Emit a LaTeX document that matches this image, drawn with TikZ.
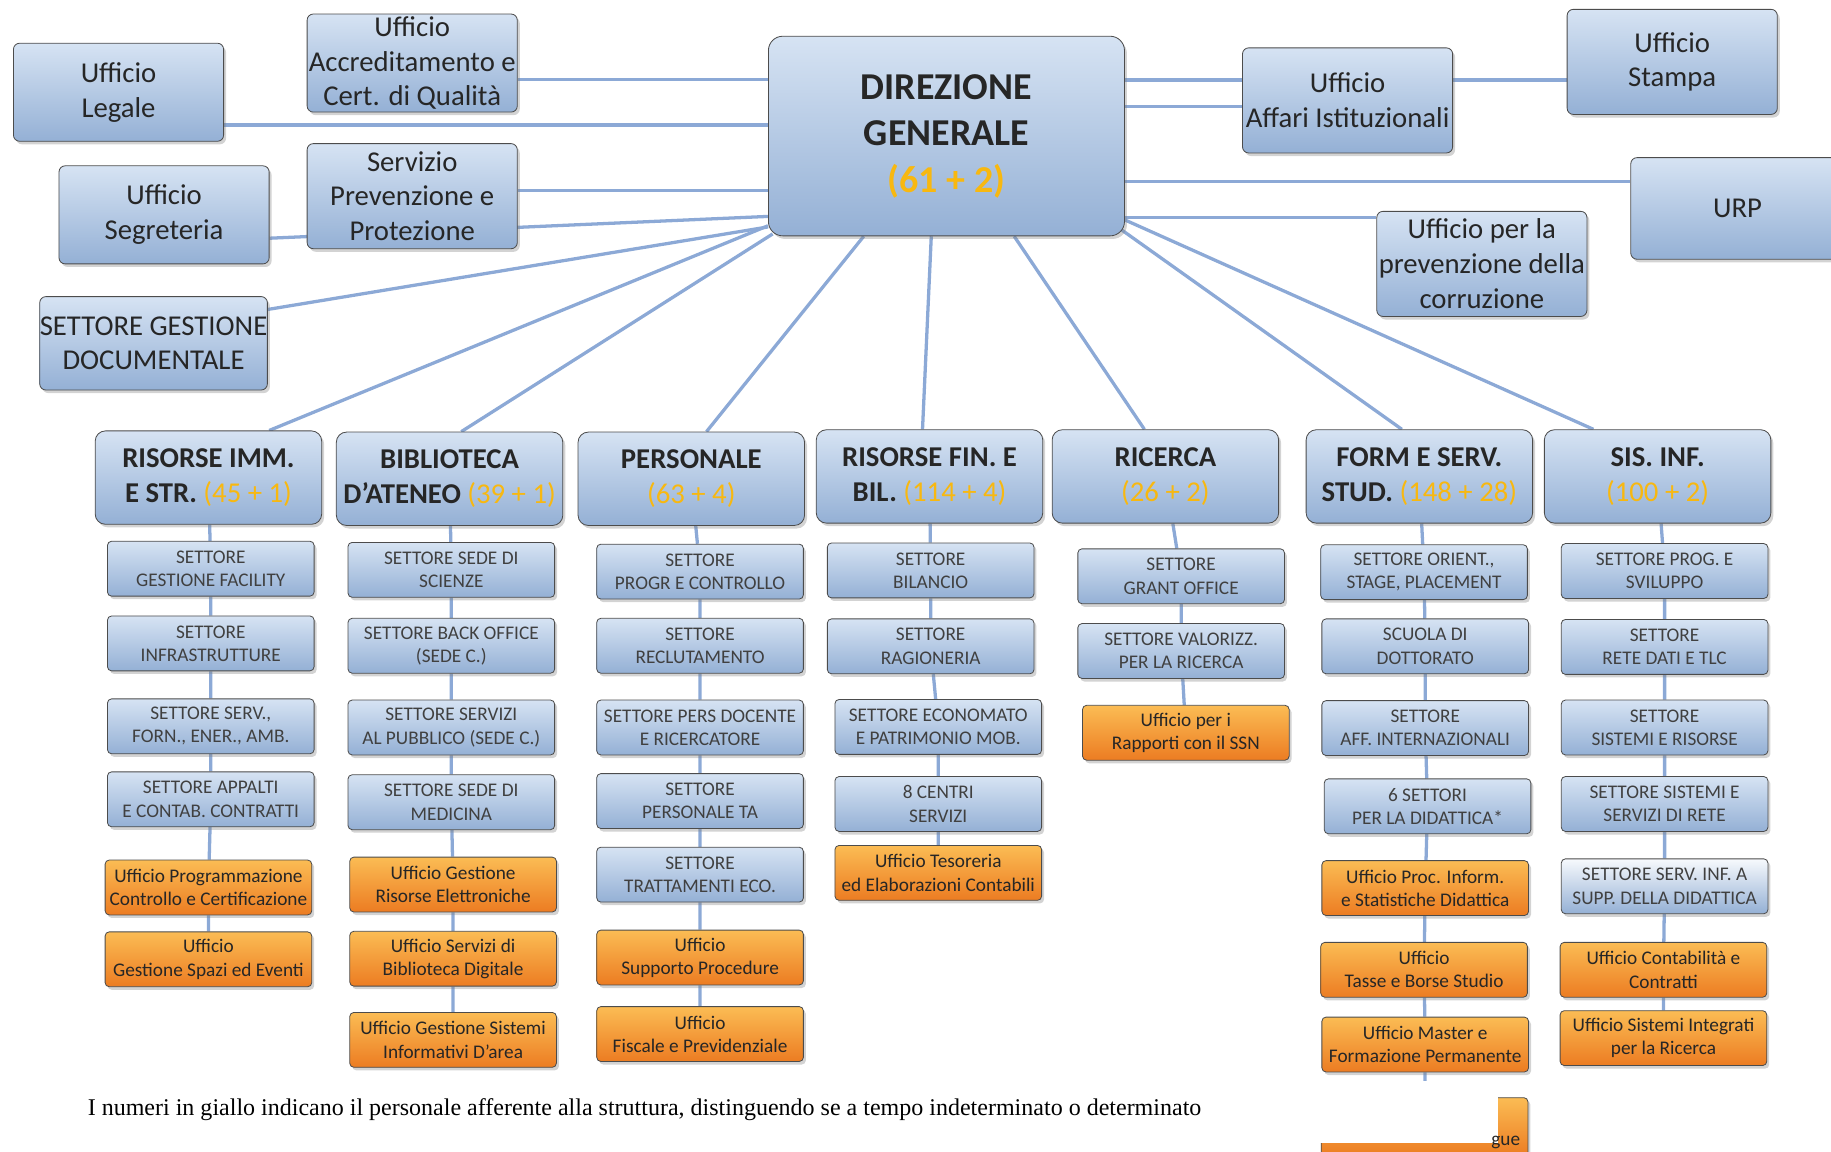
\documentclass[tikz,border=0pt]{standalone}
\usepackage{fontspec}
\setmainfont{Carlito}
\newfontfamily\notefont{Liberation Serif}
\usetikzlibrary{shadows, calc, backgrounds}
\definecolor{unibluetop}{RGB}{214,227,243}
\definecolor{uniblue}{RGB}{148,176,213}
\definecolor{uniorangetop}{RGB}{251,188,84}
\definecolor{uniorange}{RGB}{236,124,34}
\definecolor{unilink}{RGB}{140,169,214}
\definecolor{uniyellow}{RGB}{248,184,16}
\definecolor{unitext}{RGB}{38,38,38}
\newcommand{\numstaff}[1]{\textcolor{uniyellow}{(#1)}}
\tikzstyle{office} = [rectangle, rounded corners=3pt, minimum width=3.6cm, minimum height=1.68cm, inner sep=0pt, align=center, draw=black!70, top color=unibluetop, bottom color=uniblue, text=unitext, font=\fontsize{14}{17}\selectfont, drop shadow={shadow xshift=1.2pt, shadow yshift=-1.5pt, opacity=0.35}]
\tikzstyle{direzione} = [office, rounded corners=7pt, minimum width=6.1cm, minimum height=3.42cm, font=\fontsize{18.5}{22.7}\selectfont\bfseries]
\tikzstyle{area} = [office, rounded corners=5pt, minimum width=3.88cm, minimum height=1.6cm, font=\fontsize{14}{17}\selectfont\bfseries]
\tikzstyle{settore} = [office, rounded corners=2pt, minimum width=3.54cm, minimum height=0.94cm, font=\fontsize{9.4}{11.3}\selectfont, text=black!75]
\tikzstyle{ufficio} = [settore, top color=uniorangetop, bottom color=uniorange, text=black!85]
\tikzstyle{link} = [line width=1.6pt, unilink]

\begin{document}
\begin{tikzpicture}[x=0.02cm, y=0.02cm]
\clip (0,0) rectangle (1568,-986);

% Direzione and staff offices
\node[direzione] (dg) at (810.5,-116.5) {DIREZIONE\\GENERALE\\\numstaff{61 + 2}};
\node[office] (legale) at (101.5,-79) {Ufficio\\Legale};
\node[office] (accred) at (353,-54) {Ufficio\\Accreditamento e\\Cert. di Qualità};
\node[office, minimum height=1.8cm] (serv) at (353,-168) {Servizio\\Prevenzione e\\Protezione};
\node[office] (segr) at (140.5,-184) {Ufficio\\Segreteria};
\node[office, minimum width=3.9cm, minimum height=1.6cm] (doc) at (131.5,-294) {SETTORE GESTIONE\\DOCUMENTALE};
\node[office, minimum height=1.8cm] (affari) at (1154,-86) {Ufficio\\Affari Istituzionali};
\node[office, minimum height=1.8cm] (stampa) at (1432,-53) {Ufficio\\Stampa};
\node[office, minimum width=3.66cm, minimum height=1.74cm] (urp) at (1488,-178.5) {URP};
\node[office, minimum height=1.8cm] (corr) at (1269,-226) {Ufficio per la\\prevenzione della\\corruzione};

% Areas
\node[area] (risimm) at (178.5,-409) {RISORSE IMM.\\E STR. {\mdseries\numstaff{45 + 1}}};
\node[area] (biblio) at (385,-410) {BIBLIOTECA\\D’ATENEO {\mdseries\numstaff{39 + 1}}};
\node[area] (pers) at (592,-410) {PERSONALE\\{\mdseries\numstaff{63 + 4}}};
\node[area] (risfin) at (796,-408) {RISORSE FIN. E\\BIL. {\mdseries\numstaff{114 + 4}}};
\node[area] (ric) at (998,-408) {RICERCA\\{\mdseries\numstaff{26 + 2}}};
\node[area] (form) at (1215.5,-408) {FORM E SERV.\\STUD. {\mdseries\numstaff{148 + 28}}};
\node[area] (sis) at (1419.5,-408) {SIS. INF.\\{\mdseries\numstaff{100 + 2}}};

% Risorse immobiliari e strumentali
\node[settore] (ri1) at (180.5,-487) {SETTORE\\GESTIONE FACILITY};
\node[settore] (ri2) at (180.5,-551) {SETTORE\\INFRASTRUTTURE};
\node[settore] (ri3) at (180.5,-622) {SETTORE SERV.,\\FORN., ENER., AMB.};
\node[settore] (ri4) at (180.5,-684.5) {SETTORE APPALTI\\E CONTAB. CONTRATTI};
\node[ufficio] (ri5) at (178.5,-760) {Ufficio Programmazione\\Controllo e Certificazione};
\node[ufficio] (ri6) at (178.5,-821.5) {Ufficio\\Gestione Spazi ed Eventi};

% Biblioteca
\node[settore] (bi1) at (386.5,-488) {SETTORE SEDE DI\\SCIENZE};
\node[settore] (bi2) at (386.5,-553) {SETTORE BACK OFFICE\\(SEDE C.)};
\node[settore] (bi3) at (386.5,-623) {SETTORE SERVIZI\\AL PUBBLICO (SEDE C.)};
\node[settore] (bi4) at (386.5,-687) {SETTORE SEDE DI\\MEDICINA};
\node[ufficio] (bi5) at (388,-757.5) {Ufficio Gestione\\Risorse Elettroniche};
\node[ufficio] (bi6) at (388,-821) {Ufficio Servizi di\\Biblioteca Digitale};
\node[ufficio] (bi7) at (388,-890.5) {Ufficio Gestione Sistemi\\Informativi D’area};

% Personale
\node[settore] (pe1) at (599.5,-489.5) {SETTORE\\PROGR E CONTROLLO};
\node[settore] (pe2) at (599.5,-553) {SETTORE\\RECLUTAMENTO};
\node[settore] (pe3) at (599.5,-623) {SETTORE PERS DOCENTE\\E RICERCATORE};
\node[settore] (pe4) at (599.5,-686) {SETTORE\\PERSONALE TA};
\node[settore] (pe5) at (599.5,-749) {SETTORE\\TRATTAMENTI ECO.};
\node[ufficio] (pe6) at (599.5,-820) {Ufficio\\Supporto Procedure};
\node[ufficio] (pe7) at (599.5,-885.5) {Ufficio\\Fiscale e Previdenziale};

% Risorse finanziarie e bilancio
\node[settore] (rf1) at (797,-488.5) {SETTORE\\BILANCIO};
\node[settore] (rf2) at (797,-553.5) {SETTORE\\RAGIONERIA};
\node[settore] (rf3) at (803.5,-622.5) {SETTORE ECONOMATO\\E PATRIMONIO MOB.};
\node[settore] (rf4) at (803.5,-688.5) {8 CENTRI\\SERVIZI};
\node[ufficio] (rf5) at (803.5,-747.5) {Ufficio Tesoreria\\ed Elaborazioni Contabili};

% Ricerca
\node[settore] (rc1) at (1011.5,-493.5) {SETTORE\\GRANT OFFICE};
\node[settore] (rc2) at (1011.5,-557.5) {SETTORE VALORIZZ.\\PER LA RICERCA};
\node[ufficio] (rc3) at (1015.5,-627.5) {Ufficio per i\\Rapporti con il SSN};

% Formazione e servizi agli studenti
\node[settore] (fs1) at (1219.5,-490) {SETTORE ORIENT.,\\STAGE, PLACEMENT};
\node[settore] (fs2) at (1220.5,-553.5) {SCUOLA DI\\DOTTORATO};
\node[settore] (fs3) at (1220.5,-623.5) {SETTORE\\AFF. INTERNAZIONALI};
\node[settore] (fs4) at (1222.5,-690.5) {6 SETTORI\\PER LA DIDATTICA*};
\node[ufficio] (fs5) at (1220.5,-760.5) {Ufficio Proc. Inform.\\e Statistiche Didattica};
\node[ufficio] (fs6) at (1219.5,-830.5) {Ufficio\\Tasse e Borse Studio};
\node[ufficio] (fs7) at (1220.5,-894.5) {Ufficio Master e\\Formazione Permanente};
\node[ufficio, minimum height=1.0cm] (fs8) at (1220,-965) {};

% Sistemi informativi
\node[settore] (si1) at (1425.5,-489) {SETTORE PROG. E\\SVILUPPO};
\node[settore] (si2) at (1425.5,-554) {SETTORE\\RETE DATI E TLC};
\node[settore] (si3) at (1425.5,-623) {SETTORE\\SISTEMI E RISORSE};
\node[settore] (si4) at (1425.5,-688.5) {SETTORE SISTEMI E\\SERVIZI DI RETE};
\node[settore, top color=white!80!unibluetop] (si5) at (1425.5,-759) {SETTORE SERV. INF. A\\SUPP. DELLA DIDATTICA};
\node[ufficio] (si6) at (1424.5,-830.5) {Ufficio Contabilità e\\Contratti};
\node[ufficio] (si7) at (1424.5,-889) {Ufficio Sistemi Integrati\\per la Ricerca};

% Connectors, behind the boxes
\begin{scope}[on background layer]
\draw[link] (legale.east) ++(0,-28) coordinate (t1) -- (t1 -| dg.west);
\draw[link] (accred.east) ++(0,-14) coordinate (t2) -- (t2 -| dg.west);
\draw[link] (serv.east) ++(0,5) coordinate (t3) -- (t3 -| dg.west);
\draw[link] ($(segr.east)+(0,-20)$) -- ($(dg.south west)+(0,17)$);
\draw[link] ($(doc.east)+(0,29)$) -- ($(dg.south west)+(0,8)$);
\draw[link] (affari.west) ++(0,17.5) coordinate (t5) -- (t5 -| dg.east);
\draw[link] (affari.west) ++(0,-5) coordinate (t6) -- (t6 -| dg.east);
\draw[link] (t5 -| affari.east) -- (t5 -| stampa.west);
\draw[link] (urp.west) ++(0,23) coordinate (t7) -- (t7 -| dg.east);
\draw[link] (corr.west) ++(0,40) coordinate (t8) -- (t8 -| dg.east);
\draw[link] ($(dg.south west)+(0,9)$) -- ($(risimm.north)+(52,0)$);
\draw[link] ($(dg.south west)+(4,2)$) -- ($(biblio.north)+(10,0)$);
\draw[link] ($(dg.south west)+(82,0)$) -- ($(pers.north)+(13,0)$);
\draw[link] ($(dg.south)+(-13,0)$) -- ($(risfin.north)+(-6,0)$);
\draw[link] ($(dg.south)+(58,0)$) -- ($(ric.north)+(-18,0)$);
\draw[link] ($(dg.south east)+(-5,7)$) -- ($(form.north)+(-15,0)$);
\draw[link] ($(dg.south east)+(0,14)$) -- ($(sis.north)+(-55,0)$);
\draw[link] (risimm) -- (ri1) -- (ri2) -- (ri3) -- (ri4) -- (ri5) -- (ri6);
\draw[link] (biblio) -- (bi1) -- (bi2) -- (bi3) -- (bi4) -- (bi5) -- (bi6) -- (bi7);
\draw[link] (pers) -- (pe1) -- (pe2) -- (pe3) -- (pe4) -- (pe5) -- (pe6) -- (pe7);
\draw[link] (risfin) -- (rf1) -- (rf2) -- (rf3) -- (rf4) -- (rf5);
\draw[link] (ric) -- (rc1) -- (rc2) -- (rc3);
\draw[link] (form) -- (fs1) -- (fs2) -- (fs3) -- (fs4) -- (fs5) -- (fs6) -- (fs7) -- (fs8);
\draw[link] (sis) -- (si1) -- (si2) -- (si3) -- (si4) -- (si5) -- (si6) -- (si7);
\end{scope}

% Cut-off box at the bottom
\fill[white] (1118,-926) rectangle (1283,-979);
\node[anchor=base east, font=\fontsize{9.4}{11.3}\selectfont, text=black!85] (gue) at (1308,-981) {gue};

% Note
\node[anchor=base west, font=\notefont\fontsize{11.7}{13}\selectfont] (nota) at (69,-955) {I numeri in giallo indicano il personale afferente alla struttura, distinguendo se a tempo indeterminato o determinato};
\end{tikzpicture}
\end{document}
